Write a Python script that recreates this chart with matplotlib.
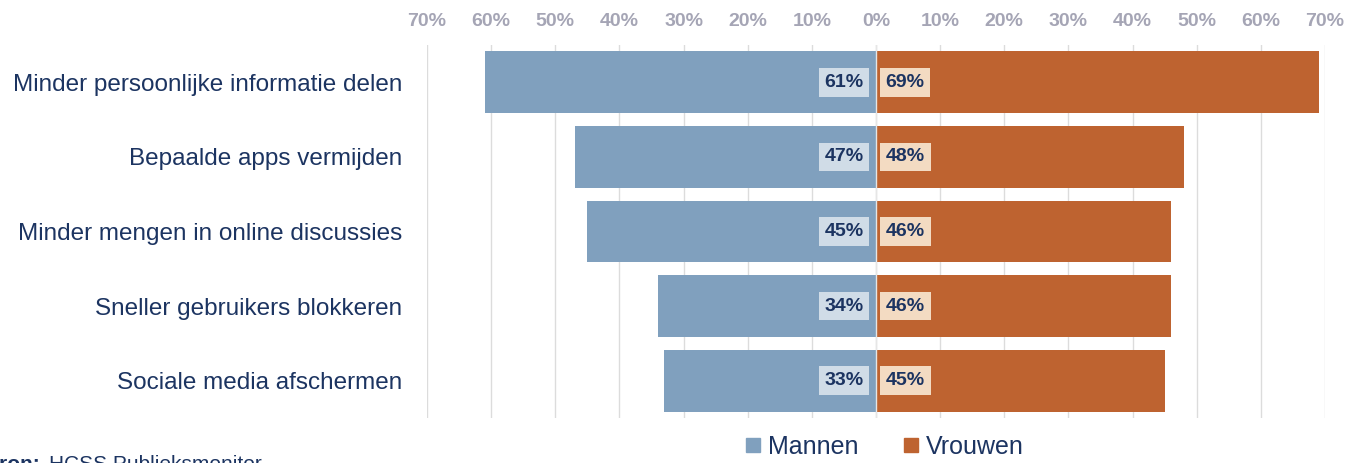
import matplotlib
matplotlib.use("Agg")
import matplotlib.pyplot as plt
from matplotlib.ticker import FixedLocator, FuncFormatter
from matplotlib.lines import Line2D

plt.rcParams['font.family'] = ['Liberation Sans', 'DejaVu Sans']

categories = ["Minder persoonlijke informatie delen",
              "Bepaalde apps vermijden",
              "Minder mengen in online discussies",
              "Sneller gebruikers blokkeren",
              "Sociale media afschermen"]
mannen = [61, 47, 45, 34, 33]
vrouwen = [69, 48, 46, 46, 45]
series_names = ["Mannen", "Vrouwen"]
ticks = [-70, -60, -50, -40, -30, -20, -10, 0, 10, 20, 30, 40, 50, 60, 70]

c_men = "#80a0be"
c_women = "#be6330"
c_men_box = "#d0dce7"
c_women_box = "#f3dbc2"
c_text = "#1c3461"
c_tick = "#a5a5b5"
c_grid = "#dcdcdc"

fig = plt.figure(figsize=(13.62, 4.63), dpi=100)
ax = fig.add_axes([427/1362, 1-418/463, 898/1362, 373/463])

y = list(range(len(categories)))
ax.barh(y, [-v for v in mannen], height=0.826, color=c_men, zorder=2)
ax.barh(y, vrouwen, height=0.826, color=c_women, zorder=2)

ax.set_xlim(-70, 70)
ax.set_ylim(4.5, -0.5)
ax.xaxis.set_major_locator(FixedLocator(ticks))
ax.xaxis.set_major_formatter(FuncFormatter(lambda v, p: f"{abs(int(round(v)))}%"))
ax.xaxis.tick_top()
ax.tick_params(axis='x', length=0, pad=11, labelsize=14, labelcolor=c_tick)
for lbl in ax.get_xticklabels():
    lbl.set_fontweight('bold')
ax.grid(axis='x', color=c_grid, lw=1, zorder=0)
ax.axvline(0, color="#e6e6e6", lw=1, zorder=3)

ax.set_yticks(y)
ax.set_yticklabels(categories, fontsize=17.5, color=c_text)
ax.tick_params(axis='y', length=0, pad=18)
for s in ax.spines.values():
    s.set_visible(False)

for i, (m, w) in enumerate(zip(mannen, vrouwen)):
    ax.text(-1.95, i, f"{m}%", ha='right', va='center', fontsize=14, fontweight='bold',
            color=c_text, zorder=4,
            bbox=dict(boxstyle='square,pad=0.3', fc=c_men_box, ec='none'))
    ax.text(1.5, i, f"{w}%", ha='left', va='center', fontsize=14, fontweight='bold',
            color=c_text, zorder=4,
            bbox=dict(boxstyle='square,pad=0.3', fc=c_women_box, ec='none'))

handles = [Line2D([], [], marker='s', ls='none', color=c_men, markersize=10),
           Line2D([], [], marker='s', ls='none', color=c_women, markersize=10)]
leg = fig.legend(handles, series_names, loc='center', bbox_to_anchor=(885/1362, 1-447/463),
                 ncol=2, frameon=False, fontsize=18, handletextpad=0.3, columnspacing=1.8,
                 handlelength=0.6, borderpad=0, borderaxespad=0)
for t in leg.get_texts():
    t.set_color(c_text)

fig.text(-0.0115, 1-455/463, "Bron:", fontsize=15, fontweight='bold', color=c_text, va='top')
fig.text(49/1362, 1-455/463, "HCSS Publieksmonitor", fontsize=15, color=c_text, va='top')

fig.savefig("out.png", dpi=100)
